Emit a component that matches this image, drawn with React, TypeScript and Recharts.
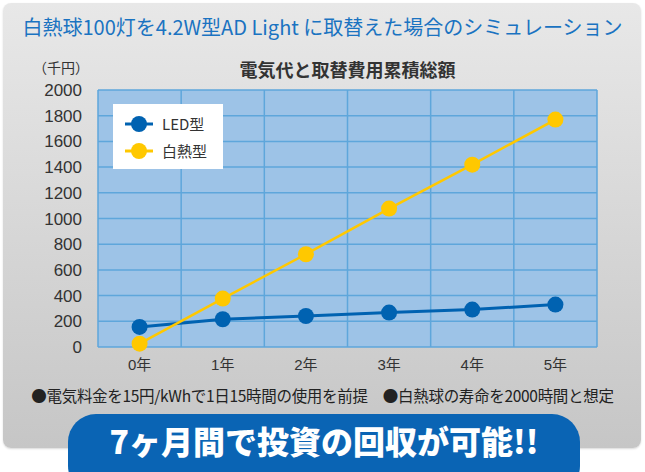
import React from 'react';
import { LineChart, Line, XAxis, YAxis, CartesianGrid, ReferenceLine } from 'recharts';

const years = ['0年', '1年', '2年', '3年', '4年', '5年'];
const ledCost = [156, 216, 241, 268, 291, 330];
const bulbCost = [26, 377, 722, 1077, 1419, 1770];
const yTicks = [0, 200, 400, 600, 800, 1000, 1200, 1400, 1600, 1800, 2000];

const LED_COLOR = '#0062b1';
const BULB_COLOR = '#ffc800';
const GRID_COLOR = '#5ea6db';
const JP = "'Noto Sans CJK JP', 'Liberation Sans', sans-serif";
const NUM = "'Liberation Sans', 'Noto Sans CJK JP', sans-serif";

const data = years.map((label, i) => ({ idx: i, label, led: ledCost[i], bulb: bulbCost[i] }));
// vertical grid lines sit between the years, not on them
const bandEdges = [-0.5, 0.5, 1.5, 2.5, 3.5, 4.5, 5.5];

const series = [
  { name: 'LED型', color: LED_COLOR },
  { name: '白熱型', color: BULB_COLOR },
];

const LegendBox = () => (
  <div style={{ position: 'absolute', left: 113, top: 104, background: '#fff', width: 110, height: 65, padding: '6px 0 0 12px', boxSizing: 'border-box' }}>
    {series.map(item => (
      <div key={item.name} style={{ display: 'flex', alignItems: 'center', height: 27 }}>
        <svg width={28} height={18}>
          <line x1={0} y1={9} x2={28} y2={9} stroke={item.color} strokeWidth={3} />
          <circle cx={14} cy={9} r={8} fill={item.color} />
        </svg>
        <span style={{ fontFamily: JP, fontSize: 15, color: '#333', marginLeft: 9 }}>{item.name}</span>
      </div>
    ))}
  </div>
);

const App: React.FC = () => {
  return (
    <div style={{ position: 'absolute', left: 0, top: 0, width: 645, height: 472, background: '#fff', overflow: 'hidden' }}>
      <div
        style={{
          position: 'absolute', left: 3, top: 3, width: 638, height: 445, borderRadius: 8,
          background: 'linear-gradient(#e8e8e8, #c6c6c6)',
          boxShadow: '0 1px 2px rgba(0,0,0,0.15)',
        }}
      />
      <div style={{ position: 'absolute', left: 0, top: 12, width: 645, textAlign: 'center', fontFamily: JP, fontSize: 20, color: '#1a73c1' }}>
        白熱球100灯を4.2W型AD Light に取替えた場合のシミュレーション
      </div>
      <div style={{ position: 'absolute', left: 33, top: 57, fontFamily: JP, fontSize: 14, color: '#333' }}>（千円）</div>
      <div style={{ position: 'absolute', left: 98, top: 56, width: 499, textAlign: 'center', fontFamily: JP, fontSize: 18, fontWeight: 700, color: '#333' }}>
        電気代と取替費用累積総額
      </div>

      <div style={{ position: 'absolute', left: 0, top: 0 }}>
        <LineChart width={645} height={390} data={data} margin={{ top: 90, right: 48, left: 38, bottom: 13 }}>
          <CartesianGrid fill="#9dc3e7" stroke={GRID_COLOR} strokeWidth={1.5} vertical={false} />
          <XAxis
            dataKey="idx" type="number" domain={[-0.5, 5.5]} ticks={[0, 1, 2, 3, 4, 5]}
            tickFormatter={(v: number) => years[v]} axisLine={false} tickLine={false} height={30} tickMargin={6}
            tick={{ fontFamily: NUM, fontSize: 15, fill: '#333' }}
          />
          <YAxis
            domain={[0, 2000]} ticks={yTicks} width={60} axisLine={false} tickLine={false} tickSize={0} tickMargin={16}
            tick={{ fontFamily: NUM, fontSize: 17, fill: '#333' }} interval={0}
          />
          {bandEdges.map(v => (
            <ReferenceLine key={v} x={v} stroke={GRID_COLOR} strokeWidth={1.5} />
          ))}
          <Line dataKey="led" stroke={LED_COLOR} strokeWidth={3} isAnimationActive={false}
            dot={{ r: 8, fill: LED_COLOR, stroke: 'none' }} />
          <Line dataKey="bulb" stroke={BULB_COLOR} strokeWidth={2.5} isAnimationActive={false}
            dot={{ r: 8, fill: BULB_COLOR, stroke: 'none' }} />
        </LineChart>
      </div>
      <LegendBox />

      <div style={{ position: 'absolute', left: 0, top: 384, width: 645, textAlign: 'center', fontFamily: JP, fontSize: 15.5, color: '#222', letterSpacing: -0.3 }}>
        ●電気料金を15円/kWhで1日15時間の使用を前提　●白熱球の寿命を2000時間と想定
      </div>
      <div
        style={{
          position: 'absolute', left: 68, top: 414, width: 512, height: 80, borderRadius: 28,
          background: '#0a64b4', color: '#fff', fontFamily: JP, fontWeight: 900, fontSize: 32,
          textAlign: 'center', lineHeight: '52px',
        }}
      >
        7ヶ月間で投資の回収が可能!!
      </div>
    </div>
  );
};

export default App;
